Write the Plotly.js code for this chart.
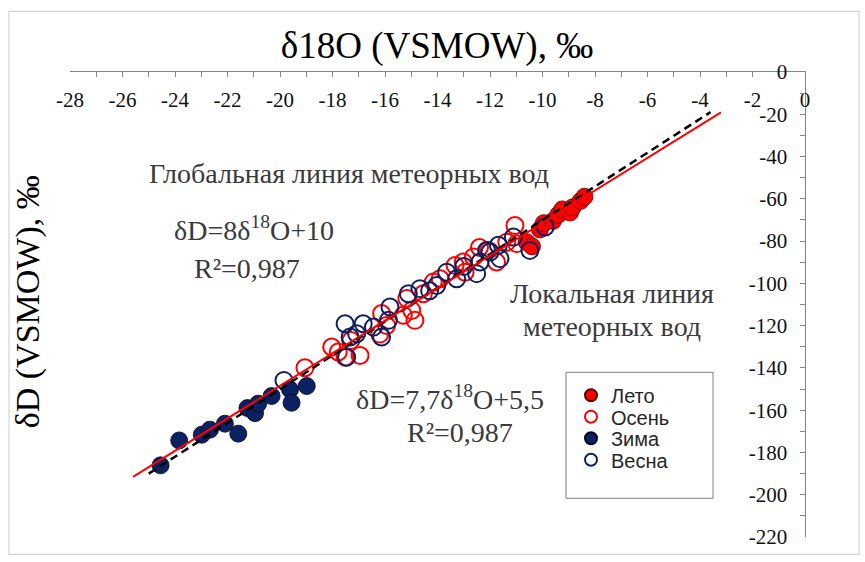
<!DOCTYPE html>
<html>
<head>
<meta charset="utf-8">
<script src="https://cdn.plot.ly/plotly-3.0.1.min.js"></script>
<style>html,body{margin:0;padding:0;background:#fff}#chart{width:865px;height:562px}</style>
</head>
<body>
<div id="chart"></div>
<script>
// ---- data (δ18O, δD in ‰ VSMOW) ----
const summerX = [-10.6, -10.4, -10.1, -9.95, -9.6, -9.4, -9.25, -8.95, -8.85, -8.55, -8.4];
const summerY = [-80.5, -82.5, -74.5, -71.5, -70.5, -67.5, -65.0, -66.5, -64.0, -61.0, -59.0];

const autumnX = [-19.05, -18.03, -17.78, -17.52, -16.95, -17.3, -16.13, -15.94, -15.3, -14.98, -14.86, -16.2,
                 -15.17, -14.54, -14.16, -13.9, -13.33, -13.02, -12.95, -12.63, -12.06, -11.75, -11.36, -11.05, -10.98, -12.4];
const autumnY = [-139.9, -130.1, -132.5, -134.9, -134.1, -127.0, -114.3, -119.9, -115.1, -112.8, -117.5, -124.0,
                 -107.2, -104.9, -99.4, -97.8, -91.5, -89.9, -94.7, -87.5, -84.4, -89.9, -80.5, -72.6, -81.2, -83.0];

const winterX = [-24.55, -23.84, -22.98, -22.67, -22.1, -21.59, -21.24, -20.95, -20.83, -20.32, -19.62, -19.56, -18.98];
const winterY = [-186.1, -174.3, -171.6, -169.2, -166.4, -171.1, -159.0, -161.4, -156.9, -153.3, -150.2, -156.5, -148.6];

const springX = [-19.85, -17.52, -17.08, -17.33, -16.83, -16.44, -16.13, -15.81, -15.87, -15.11, -17.46, -14.67, -14.03,
                 -13.65, -13.27, -12.51, -12.38, -12.0, -11.68, -11.62, -11.11, -10.48, -9.9, -12.13, -14.3, -13.0];
const springY = [-145.9, -119.1, -123.8, -125.4, -119.1, -120.7, -125.4, -111.2, -117.5, -104.9, -134.9, -102.5, -101.0,
                 -94.7, -97.8, -95.4, -89.9, -85.2, -82.0, -88.3, -78.1, -84.4, -73.3, -84.4, -103.5, -92.0];

// line end points
const gmwlX = [-25.0, -3.6];
const gmwlY = [-190.0, -19.0];
const lmwlX = [-25.6, -3.2];
const lmwlY = [-191.6, -19.1];

const seasonNames = ['Лето', 'Осень', 'Зима', 'Весна'];
const xTicks = [-28, -26, -24, -22, -20, -18, -16, -14, -12, -10, -8, -6, -4, -2, 0];
const yTicks = [0, -20, -40, -60, -80, -100, -120, -140, -160, -180, -200, -220];

// ---- styling / layout ----
const RED = '#ff0000', NAVY = '#0b2162';
const SERIF = 'Liberation Serif, Times New Roman, serif';
const SANS = 'Liberation Sans, Arial, sans-serif';
const L = 70, R = 805, T = 71.7, B = 536.7;
const px = v => (v - L) / (R - L);
const py = v => (B - v) / (B - T);
const MS = 17;

const traces = [
  {x: summerX, y: summerY, name: seasonNames[0], type: 'scatter', mode: 'markers', legend: 'legend',
   marker: {symbol: 'circle', size: MS, color: RED, line: {color: '#5a0000', width: 0.8}}},
  {x: autumnX, y: autumnY, name: seasonNames[1], type: 'scatter', mode: 'markers', legend: 'legend2',
   marker: {symbol: 'circle-open', size: MS, color: RED, line: {color: RED, width: 2}}},
  {x: winterX, y: winterY, name: seasonNames[2], type: 'scatter', mode: 'markers', legend: 'legend3',
   marker: {symbol: 'circle', size: MS, color: NAVY, line: {color: '#000820', width: 0.8}}},
  {x: springX, y: springY, name: seasonNames[3], type: 'scatter', mode: 'markers', legend: 'legend4',
   marker: {symbol: 'circle-open', size: MS, color: NAVY, line: {color: NAVY, width: 2}}},
  {x: gmwlX, y: gmwlY, type: 'scatter', mode: 'lines', showlegend: false, hoverinfo: 'skip',
   line: {color: '#000', width: 2.5, dash: '8px,5px'}},
  {x: lmwlX, y: lmwlY, type: 'scatter', mode: 'lines', showlegend: false, hoverinfo: 'skip',
   line: {color: RED, width: 2}}
];

const axisCommon = {
  showline: true, linecolor: '#868686', linewidth: 1,
  ticks: 'inside', ticklen: 5, tickcolor: '#868686', tickwidth: 1,
  showgrid: false, zeroline: false, fixedrange: true,
  ticklabelposition: 'inside', ticklabeloverflow: 'allow',
  tickfont: {family: SERIF, size: 21, color: '#111'}
};

const annFont = {family: SERIF, size: 28, color: '#3a3a3a'};
const ann = (x, y, text, font) => ({xref: 'paper', yref: 'paper', x: px(x), y: py(y), text: text,
  showarrow: false, xanchor: 'center', yanchor: 'middle', font: font || annFont});

const legendAt = rowY => ({
  x: px(571), xanchor: 'left', y: py(rowY), yanchor: 'middle',
  bgcolor: 'rgba(0,0,0,0)', borderwidth: 0, itemsizing: 'constant',
  font: {family: SANS, size: 20, color: '#262626'}
});

const layout = {
  width: 865, height: 562,
  margin: {l: L, r: 865 - R, t: T, b: 562 - B, pad: 0},
  paper_bgcolor: '#fff', plot_bgcolor: '#fff',
  showlegend: true,
  title: {text: 'δ18O (VSMOW), ‰', font: {family: SERIF, size: 37, color: '#000'},
          xref: 'paper', x: px(437), xanchor: 'center', yref: 'container', y: 1 - 45 / 562, yanchor: 'middle'},
  xaxis: Object.assign({}, axisCommon, {
    range: [-28, 0], side: 'top', anchor: 'y',
    tickmode: 'array', tickvals: xTicks, ticktext: xTicks.map(String),
    minor: {dtick: 1, tick0: 0, ticks: 'inside', ticklen: 5, tickcolor: '#868686'},
    ticklabelstandoff: 17
  }),
  yaxis: Object.assign({}, axisCommon, {
    range: [-220, 0], side: 'right', anchor: 'x',
    tickmode: 'array', tickvals: yTicks, ticktext: yTicks.map(String),
    minor: {dtick: 10, tick0: 0, ticks: 'inside', ticklen: 5, tickcolor: '#868686'},
    ticklabelstandoff: 14
  }),
  legend: legendAt(395),
  legend2: legendAt(416.5),
  legend3: legendAt(438),
  legend4: legendAt(459.5),
  shapes: [
    {type: 'rect', xref: 'paper', yref: 'paper', x0: px(9), x1: px(859), y0: py(11), y1: py(554),
     line: {color: '#d4d4d4', width: 1.2}, fillcolor: 'rgba(0,0,0,0)', layer: 'below'},
    {type: 'rect', xref: 'paper', yref: 'paper', x0: px(566), x1: px(713), y0: py(372), y1: py(498),
     line: {color: '#7f7f7f', width: 1}, fillcolor: 'rgba(0,0,0,0)'}
  ],
  annotations: [
    ann(28, 302, 'δD (VSMOW), ‰', {family: SERIF, size: 34, color: '#000'}),
    ann(349, 173, 'Глобальная линия метеорных вод'),
    ann(254, 228, 'δD=8δ<sup>18</sup>O+10'),
    ann(247, 268, 'R²=0,987'),
    ann(612, 293, 'Локальная линия'),
    ann(612, 326, 'метеорных вод'),
    ann(450, 397, 'δD=7,7δ<sup>18</sup>O+5,5'),
    ann(460, 432, 'R²=0,987')
  ]
};
layout.annotations[0].textangle = -90;

Plotly.newPlot('chart', traces, layout, {displayModeBar: false, staticPlot: true});
</script>
</body>
</html>
